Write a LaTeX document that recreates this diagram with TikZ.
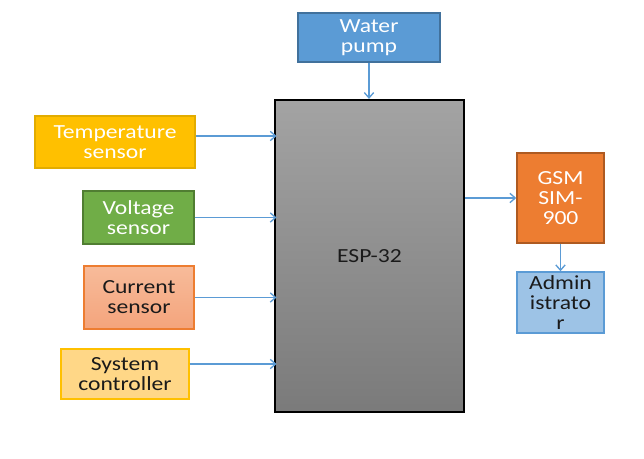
\documentclass[tikz,border=0pt]{standalone}
\usepackage{fontspec}
\setmainfont{Carlito}[FakeStretch=1.18]
\usetikzlibrary{arrows.meta}
\definecolor{pumpblue}{HTML}{5B9BD5}
\definecolor{pumpline}{HTML}{41719C}
\definecolor{tempfill}{HTML}{FFC000}
\definecolor{templine}{HTML}{E2AC00}
\definecolor{voltfill}{HTML}{70AD47}
\definecolor{voltline}{HTML}{507E32}
\definecolor{currtop}{HTML}{F7BB9A}
\definecolor{currbot}{HTML}{F4A47C}
\definecolor{currline}{HTML}{ED7D31}
\definecolor{sysfill}{HTML}{FFD787}
\definecolor{gsmfill}{HTML}{ED7D31}
\definecolor{gsmline}{HTML}{AE5A21}
\definecolor{admfill}{HTML}{9DC3E6}
\definecolor{darktext}{HTML}{1A1A1A}
\tikzset{
  blk/.style={draw,line width=1.1pt,align=center,inner sep=0pt,
    font=\fontsize{15}{15}\selectfont},
  link/.style={draw=pumpblue,line width=1pt,-{Straight Barb[length=4pt,width=7pt]}}
}
\begin{document}
\begin{tikzpicture}[x=0.75pt,y=-0.75pt]
\useasboundingbox (0,0) rectangle (644,459);
% main controller
\node[blk,draw=black,line width=1.6pt,top color=black!36,bottom color=black!52,
  text=darktext,minimum width=141.75pt,minimum height=234pt] (esp) at (369.5,256) {ESP-32};
% inputs
\node[blk,fill=pumpblue,draw=pumpline,text=white,minimum width=106.5pt,minimum height=36.75pt] (pump) at (369,37.5) {Water\\pump};
\node[blk,fill=tempfill,draw=templine,text=white,minimum width=120pt,minimum height=39pt] (temp) at (115,142) {Temperature\\sensor};
\node[blk,fill=voltfill,draw=voltline,text=white,minimum width=83.25pt,minimum height=39.75pt] (volt) at (138.5,217.5) {Voltage\\sensor};
\node[blk,top color=currtop,bottom color=currbot,draw=currline,text=darktext,minimum width=82.5pt,minimum height=47.25pt] (curr) at (139,297.5) {Current\\sensor};
\node[blk,fill=sysfill,draw=tempfill,text=darktext,minimum width=96pt,minimum height=37.5pt] (sys) at (125,374) {System\\controller};
% outputs
\node[blk,fill=gsmfill,draw=gsmline,text=white,minimum width=65.25pt,minimum height=67.5pt] (gsm) at (560.5,198) {GSM\\SIM-\\900};
\node[blk,fill=admfill,draw=pumpblue,text=darktext,minimum width=65.25pt,minimum height=45.75pt] (adm) at (560.5,302.5) {Admin\\istrato\\r};
% connectors
\draw[link] (pump) -- (esp.north -| pump);
\foreach \s/\dy in {temp/4.5,volt/0,curr/0,sys/7.5}
  \draw[link] ([yshift=\dy pt]\s.east) -- ([xshift=2pt,yshift=\dy pt]\s.east -| esp.west);
\draw[link] (esp.east |- gsm.west) -- (gsm.west);
\draw[link] (gsm) -- (adm);
\end{tikzpicture}
\end{document}
